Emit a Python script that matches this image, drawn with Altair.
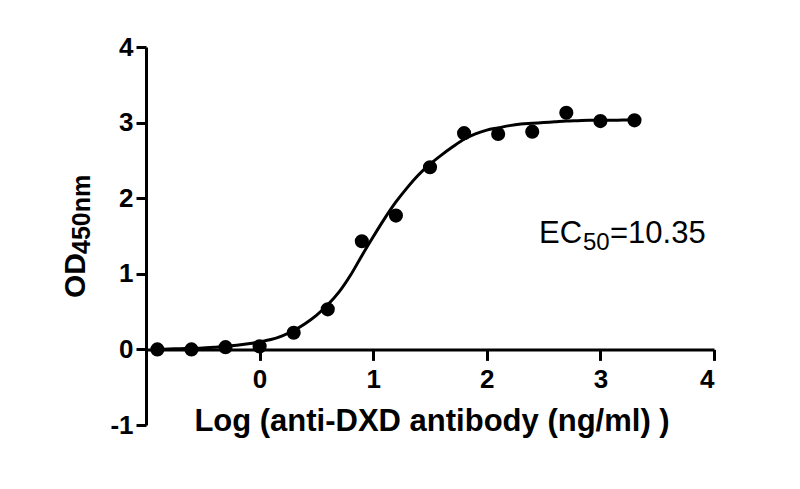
import altair as alt
import pandas as pd

# Measured points (log concentration vs OD450)
pt_x = [-0.9, -0.6, -0.3, 0.0, 0.3, 0.6, 0.9, 1.2, 1.5, 1.8, 2.1, 2.4, 2.7, 3.0, 3.3]
pt_y = [0.00, 0.00, 0.03, 0.04, 0.22, 0.53, 1.43, 1.77, 2.41, 2.86, 2.85, 2.88, 3.13, 3.02, 3.03]

# Fitted curve
curve_x = [-0.9, -0.8, -0.7, -0.6, -0.5, -0.4, -0.3, -0.2, -0.1, 0.0,
           0.1, 0.2, 0.3, 0.4, 0.5, 0.6, 0.7, 0.8, 0.9, 1.0,
           1.1, 1.2, 1.3, 1.4, 1.5, 1.6, 1.7, 1.8, 1.9, 2.0,
           2.1, 2.2, 2.3, 2.4, 2.5, 2.6, 2.7, 2.8, 2.9, 3.0,
           3.1, 3.2, 3.3]
curve_y = [0.00, 0.005, 0.01, 0.015, 0.02, 0.03, 0.04, 0.055, 0.075, 0.10,
           0.13, 0.18, 0.25, 0.34, 0.45, 0.59, 0.76, 0.98, 1.24, 1.49,
           1.73, 1.95, 2.14, 2.31, 2.45, 2.57, 2.68, 2.78, 2.85, 2.90,
           2.93, 2.96, 2.98, 2.99, 3.00, 3.01, 3.02, 3.025, 3.03, 3.03,
           3.03, 3.035, 3.035]

x_ticks = [0, 1, 2, 3, 4]
y_ticks = [-1, 0, 1, 2, 3, 4]

x_title = "Log (anti-DXD antibody (ng/ml) )"
y_title_main = "OD"
y_title_sub = "450nm"
ec_main = "EC"
ec_sub = "50"
ec_value = "=10.35"

pts = pd.DataFrame({"x": pt_x, "y": pt_y})
crv = pd.DataFrame({"x": curve_x, "y": curve_y})

FONT = "Liberation Sans"

xs = alt.Scale(domain=[-1, 4], nice=False, zero=False)
ys = alt.Scale(domain=[-1, 4], nice=False, zero=False)

x_axis = alt.Axis(
    values=x_ticks, grid=False, offset=-75.6, labelExpr="'' + datum.value",
    domainColor="black", domainWidth=3, tickColor="black", tickWidth=3, tickSize=11,
    labelFont=FONT, labelFontSize=26, labelFontWeight="bold", labelColor="black", labelPadding=6,
    title=x_title, titleFont=FONT, titleFontSize=31, titleFontWeight="bold", titleColor="black",
    titleY=81, titleX=285.5, titleBaseline="alphabetic", titleAlign="center",
)
y_axis = alt.Axis(
    values=y_ticks, grid=False, labelExpr="'' + datum.value",
    domainColor="black", domainWidth=3, tickColor="black", tickWidth=3, tickSize=10,
    labelFont=FONT, labelFontSize=26, labelFontWeight="bold", labelColor="black", labelPadding=3,
    title=None,
)

line = alt.Chart(crv).mark_line(color="black", strokeWidth=3, interpolate="monotone").encode(
    x=alt.X("x:Q", scale=xs, axis=x_axis),
    y=alt.Y("y:Q", scale=ys, axis=y_axis),
)
points = alt.Chart(pts).mark_point(filled=True, color="black", opacity=1, size=200, shape="circle").encode(
    x=alt.X("x:Q", scale=xs),
    y=alt.Y("y:Q", scale=ys),
)

def label(text, x, y, size, weight="normal", angle=0):
    return alt.Chart(pd.DataFrame({"t": [text]})).mark_text(
        font=FONT, fontSize=size, fontWeight=weight, color="black",
        align="left", baseline="alphabetic", angle=angle,
    ).encode(text="t:N", x=alt.value(x), y=alt.value(y))

yt1 = label(y_title_main, -61, 251, 30, "bold", 270)
yt2 = label(y_title_sub, -56, 207, 25, "bold", 270)
e1 = label(ec_main, 393, 196.3, 31)
e2 = label(ec_sub, 437, 203, 24)
e3 = label(ec_value, 464, 196.3, 31)

chart = alt.layer(line, points, yt1, yt2, e1, e2, e3).properties(
    width=568, height=378,
    autosize=alt.AutoSizeParams(type="none"),
    padding={"left": 138, "top": 39, "right": 60, "bottom": 40},
).configure_view(stroke=None)

chart.save("out.html", embed_options={"renderer": "svg", "actions": False})
